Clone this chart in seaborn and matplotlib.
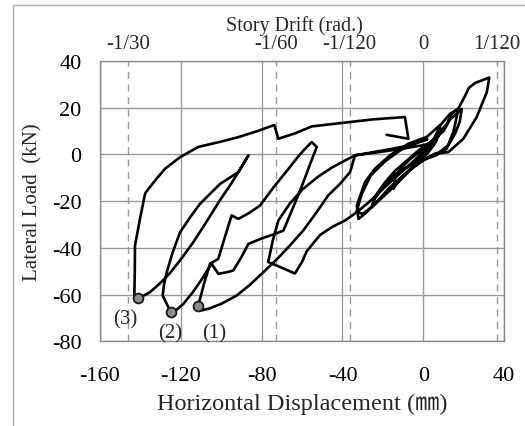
import matplotlib
matplotlib.use("Agg")
import matplotlib.pyplot as plt
import seaborn as sns
import pandas as pd
from matplotlib.lines import Line2D

# ---------------- data ----------------
disp = [
    0, 1.5, 3, 4, 3, 1, -1, -3, -4, -3, -1, 1,
    3, 5, 8.3, 8, 6, 3, 0, -4, -8, -12, -14.8, -14, -11, -6.6, -2, 2, 5, 11.6, 14, 17.3, 16, 14.8, 11.6, 6, 1.7,
    -6.6, -14.8, -20, -24, -25.5, -23.9, -19, -14, -8, -2, 4, 10, 13.2, 16.5, 19, 18, 15.7, 12.4, 8, 3,
    -3, -10, -17, -24.7, -29, -32.1, -32.9, -28.8, -23.9, -16.5, -7.4, 1.7, 9.1, 13.2, 17.3, 20.6, 22.5, 25.6, 32.6,
    31.4, 26.4, 19.8, 12.4, 5.8, 0, -5.7, -15.6, -24.7, -30, -33, -30.5, -26, -19, -11, -4, 2, -6, -18, -28, -33.8,
    -38.7, -45, -52, -59.8, -66, -71.7, -74.5, -76.7,
    -70, -63.5, -60, -57.7, -51.1, -45, -38.7, -32.9, -27, -23.9, -19, -12, -5, 1, 5, 0, -10, -22, -33.8,
    -36.2, -41.2, -47, -53, -59.3, -66, -72, -79.1, -86, -92.3, -100, -106, -110.4, -111.3,
    -108.5, -105.5, -101.4, -98, -94.8, -91.5, -86, -80.8, -74, -67, -62, -58.5, -55.2, -52.7,
    -55.5, -59.3, -62.6, -66, -69.2, -73.3, -80, -86.5, -90, -94, -97.5, -101.4, -104.7, -110, -114, -118.7, -122, -124.9,
    -128.9, -128.3, -126.9, -124, -120.3, -115, -110.4, -105, -100.5, -91.5, -86.5,
    -90, -95, -100.5, -107, -113.7, -120, -125.3, -130, -135.2, -139.5, -141.2,
    -142.9, -142.7, -142.6, -140, -137.6, -136.8, -132, -127.7, -120, -111.3, -100, -91.5, -82, -73.7, -71.7,
    -63.5, -55.2, -40, -25, -9.1, -7.4, -18.1,
]
load = [
    0, 1.5, 3, 4.5, 2.5, 0, -1.5, -3, -4.5, -2.5, -0.5, 1,
    3.5, 6, 12.4, 9, 5, 1.5, -1.5, -4, -7.5, -11, -14.7, -10, -6, -2, 1, 3.5, 6.5, 13, 17.4, 19.6, 14, 9.6, 2.4, -0.5, -1.8,
    -4.7, -9, -14, -19, -22.5, -18, -12, -7, -2.5, 2, 5.5, 10, 15, 17.4, 19.5, 14, 8.9, 4, 1, -1,
    -4, -9, -14.5, -21.9, -25.5, -27.6, -21.9, -11.8, -6.1, -0.4, 4.6, 7.5, 13.2, 17.4, 19.6, 25, 28.5, 30.6, 32.9,
    26.7, 16, 6.7, 1, 0.3, -2.5, -6.1, -14.7, -21.9, -25.5, -24.5, -17, -9, -3, 2, 5, 6.5, 4, 2, 0.5, -0.4,
    -2.6, -5.5, -9.5, -15, -21, -28.3, -37, -46.1,
    -48.5, -51, -46, -41.5, -34.5, -31, -28.3, -24.7, -20.5, -18, -14, -8.5, -3, 2, 5, 4, 2.5, 1, -0.4,
    -7.5, -12.6, -17.5, -25, -32.5, -39, -44.5, -50.4, -56, -60.4, -64, -66, -66.9, -64.7,
    -55.5, -46.8, -44.7, -35, -26.1, -27.6, -25, -21.9, -14, -6.5, -1, 2.4, 5.3, 3.2,
    -3, -11.8, -19, -26, -32.6, -34, -36, -38.3, -44, -49.7, -50.5, -51.1, -46.8, -54, -59, -64, -66.5, -67.6,
    -60.4, -56, -50.4, -42, -33.3, -26.5, -21.1, -16.5, -12.6, -7.6, -0.4,
    -5.5, -12.5, -19.5, -28.5, -37.5, -45, -50.8, -55, -59, -61, -61.3,
    -60.4, -50, -39, -27, -16.8, -15.7, -10.5, -6.1, -1, 3.2, 5.5, 7.4, 10, 12.6, 6.7,
    9, 12, 13.5, 15, 16, 6.7, 8.4,
]
peak_disp = [-111.3, -124.9, -141.2]
peak_load = [-64.7, -67.6, -61.3]
peak_labels = ["(1)", "(2)", "(3)"]
label_disp = [-103.3, -125.3, -147.2]
label_load = [-76.4, -76.4, -70.4]

x_ticks = [-160, -120, -80, -40, 0, 40]
y_ticks = [-80, -60, -40, -20, 0, 20, 40]
story_height = 4380  # mm, used to place the drift axis
drift_values = [-1 / 30, -1 / 60, -1 / 120, 0, 1 / 120]
drift_labels = ["-1/30", "-1/60", "-1/120", "0", "1/120"]

# ---------------- style ----------------
sns.set_style("white")
plt.rcParams["font.family"] = ["Liberation Serif", "Noto Sans CJK JP", "DejaVu Sans"]
plt.rcParams["axes.unicode_minus"] = False

fig = plt.figure(figsize=(5.25, 4.27), dpi=100)
ax = fig.add_axes([0.1901, 0.1984, 0.7703, 0.6564])

grid_c = "#9a9a9a"
ax.set_xlim(-160, 40)
ax.set_ylim(-80, 40)
ax.set_xticks(x_ticks)
ax.set_yticks(y_ticks)
ax.set_xticklabels([str(v) for v in x_ticks])
ax.set_yticklabels([str(v) for v in y_ticks])
ax.grid(True, color=grid_c, lw=1.0)
for sp in ax.spines.values():
    sp.set_color("#8a8a8a")
    sp.set_linewidth(1.0)
ax.tick_params(length=0, labelsize=16, colors="black")
ax.tick_params(axis="x", pad=17.5)
ax.tick_params(axis="y", pad=13)

for d in drift_values:
    if d != 0:
        ax.axvline(d * story_height, color=grid_c, lw=1.0, ls=(0, (5, 4)), zorder=1)

df = pd.DataFrame({"disp": disp, "load": load})
sns.lineplot(data=df, x="disp", y="load", sort=False, estimator=None,
             color="black", lw=1.9, ax=ax, zorder=3)
sns.scatterplot(x=peak_disp, y=peak_load, s=50, color="#8c8c8c",
                edgecolor="#1a1a1a", linewidth=1.3, zorder=5, ax=ax, legend=False)
for lx, ly, t in zip(label_disp, label_load, peak_labels):
    ax.text(lx, ly, t, ha="center", va="center", fontsize=15)

ax.set_xlabel("Horizontal Displacement (\u339c)", fontsize=17.5, labelpad=6)
ax.set_ylabel("Lateral Load  (kN)", fontsize=15, labelpad=7)

ax2 = ax.twiny()
ax2.set_xlim(ax.get_xlim())
ax2.set_xticks([d * story_height for d in drift_values])
ax2.set_xticklabels(drift_labels)
ax2.tick_params(length=0, labelsize=15, pad=5.5)
ax2.set_xlabel("Story Drift (rad.)", fontsize=14.5, labelpad=3)
ax2.xaxis.label.set_x(0.4815)
for sp in ax2.spines.values():
    sp.set_visible(False)
ax2.grid(False)

# thin frame lines at the figure's left and top edges
fig.add_artist(Line2D([12.7 / 525, 12.7 / 525], [0, 1 - 6 / 427],
                      transform=fig.transFigure, color="#a8a8a8", lw=1))
fig.add_artist(Line2D([12.7 / 525, 1], [1 - 6 / 427, 1 - 6 / 427],
                      transform=fig.transFigure, color="#a8a8a8", lw=1))

fig.savefig("out.png", dpi=100)
